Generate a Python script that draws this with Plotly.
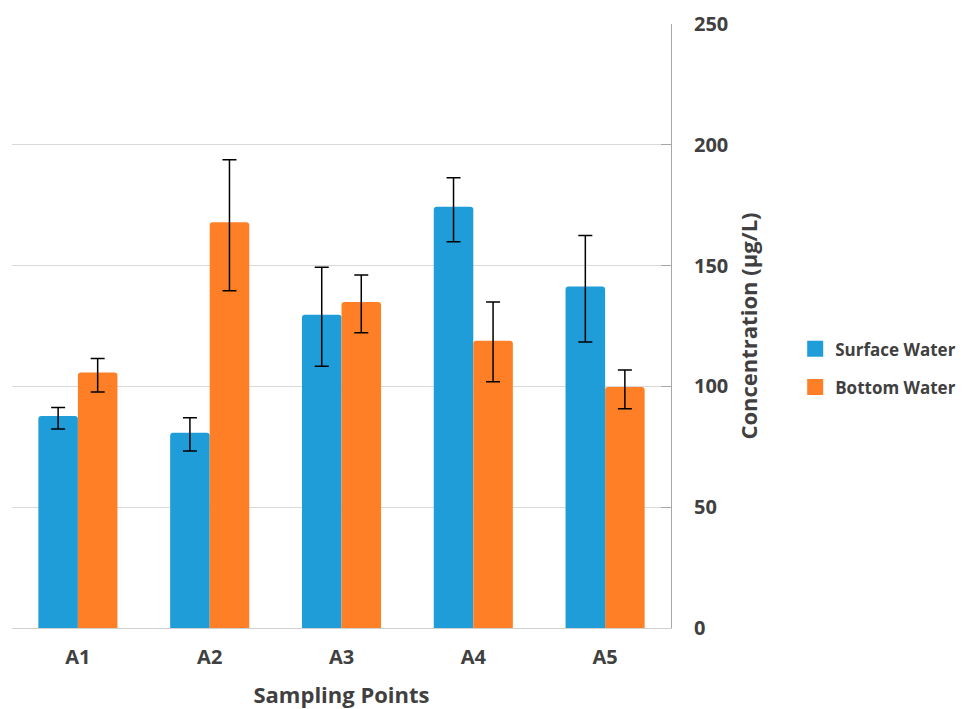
import plotly.graph_objects as go

categories = ["A1", "A2", "A3", "A4", "A5"]
surface = [87.7, 80.8, 129.7, 174.4, 141.3]
surface_err_plus = [3.6, 6.2, 19.6, 12.0, 21.2]
surface_err_minus = [5.3, 7.5, 21.4, 14.5, 22.9]
bottom = [105.8, 167.9, 134.9, 118.9, 99.8]
bottom_err_plus = [5.7, 25.9, 11.2, 16.0, 7.0]
bottom_err_minus = [8.1, 28.3, 12.7, 17.0, 9.0]
y_ticks = [0, 50, 100, 150, 200, 250]

font_family = "Open Sans, sans-serif"
text_color = "#404040"
blue = "#1E9DD8"
orange = "#FE7F26"

fig = go.Figure()
fig.add_trace(go.Bar(
    name="Surface Water", x=categories, y=surface, legendgroup="s", showlegend=False,
    marker=dict(color=blue, line=dict(width=0), cornerradius=3),
    error_y=dict(type="data", array=surface_err_plus, arrayminus=surface_err_minus,
                 symmetric=False, color="black", thickness=1.5, width=7),
))
fig.add_trace(go.Bar(
    name="Bottom Water", x=categories, y=bottom, legendgroup="b", showlegend=False,
    marker=dict(color=orange, line=dict(width=0), cornerradius=3),
    error_y=dict(type="data", array=bottom_err_plus, arrayminus=bottom_err_minus,
                 symmetric=False, color="black", thickness=1.5, width=7),
))
# legend entries (larger square swatches)
for nm, col, grp in [("Surface Water", blue, "s"), ("Bottom Water", orange, "b")]:
    fig.add_trace(go.Scatter(
        name=nm, x=[None], y=[None], mode="markers", legendgroup=grp,
        marker=dict(symbol="square", size=16, color=col), showlegend=True,
    ))

fig.update_layout(
    width=960, height=701,
    margin=dict(l=4, r=297, t=16, b=81, autoexpand=False),
    paper_bgcolor="white", plot_bgcolor="white",
    barmode="group", bargap=0.4, bargroupgap=0,
    font=dict(family=font_family, color=text_color, size=16),
    legend=dict(xref="container", yref="container", x=0.82, y=0.486,
                xanchor="left", yanchor="middle",
                font=dict(size=17, color=text_color, family=font_family, weight="bold"),
                itemwidth=30, itemsizing="trace", tracegroupgap=13),
    xaxis=dict(
        automargin=False,
        title=dict(text="Sampling Points", font=dict(size=22, color=text_color, weight="bold"), standoff=24),
        tickfont=dict(size=20, color=text_color, weight="bold"),
        showline=True, linecolor="#D0D0D0", linewidth=1,
        ticks="", showgrid=False, ticklabelstandoff=11,
    ),
    yaxis=dict(
        automargin=False,
        side="right",
        range=[0, 250], tickvals=y_ticks,
        tickfont=dict(size=20, color=text_color, family=font_family, weight="bold"),
        showgrid=True, gridcolor="#D9D9D9", gridwidth=1,
        showline=True, linecolor="#A6A6A6", linewidth=1,
        ticks="inside", ticklen=10, tickcolor="#A6A6A6",
        ticklabelstandoff=18,
        title=dict(text="Concentration (μg/L)", font=dict(size=22, color=text_color, weight="bold"), standoff=14),
        zeroline=False,
    ),
)

fig.write_html("out.html")
